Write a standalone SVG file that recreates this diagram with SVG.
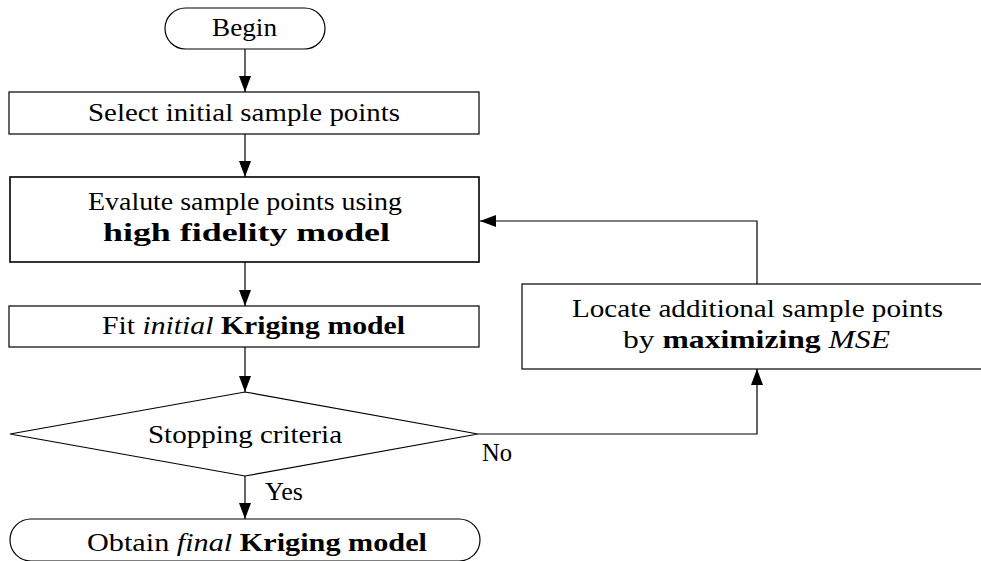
<svg xmlns="http://www.w3.org/2000/svg" width="981" height="561" viewBox="0 0 981 561">
<defs>
<marker id="ah" markerWidth="16" markerHeight="12" refX="16" refY="6" orient="auto" markerUnits="userSpaceOnUse">
<path d="M0,0 L16,6 L0,12 Z" fill="#000"/>
</marker>
<style>
.n{fill:#fff;stroke:#000;stroke-width:1.2}
.t{font-family:"Liberation Serif","DejaVu Serif",serif;font-size:26px;fill:#000}
.b{font-weight:bold}
.i{font-style:italic}
.c{fill:none;stroke:#000;stroke-width:1.2}
</style>
</defs>
<rect width="981" height="561" fill="#fff"/>
<g id="connectors">
<path class="c" d="M245,49 L245,92" marker-end="url(#ah)"/>
<path class="c" d="M245,134 L245,177" marker-end="url(#ah)"/>
<path class="c" d="M245,262 L245,306" marker-end="url(#ah)"/>
<path class="c" d="M245,347 L245,392" marker-end="url(#ah)"/>
<path class="c" d="M245,476 L245,519" marker-end="url(#ah)"/>
<path class="c" d="M478,434 L757,434 L757,369" marker-end="url(#ah)"/>
<path class="c" d="M757,284 L757,221 L480,221" marker-end="url(#ah)"/>
<text class="t" x="265" y="500" textLength="38" lengthAdjust="spacingAndGlyphs">Yes</text>
<text class="t" x="482" y="461" textLength="30" lengthAdjust="spacingAndGlyphs">No</text>
</g>
<g id="begin">
<rect class="n" x="165" y="8" width="160" height="41" rx="20.5"/>
<text class="t" x="212" y="36" textLength="65" lengthAdjust="spacingAndGlyphs">Begin</text>
</g>
<g id="select">
<rect class="n" x="9" y="92" width="470" height="42"/>
<text class="t" x="88" y="121" textLength="312" lengthAdjust="spacingAndGlyphs">Select initial sample points</text>
</g>
<g id="evaluate">
<rect class="n" x="10" y="177" width="469" height="85" style="stroke-width:1.6"/>
<text class="t" x="88" y="210" textLength="314" lengthAdjust="spacingAndGlyphs">Evalute sample points using</text>
<text class="t b" x="103" y="241" textLength="287" lengthAdjust="spacingAndGlyphs">high fidelity model</text>
</g>
<g id="fit">
<rect class="n" x="9" y="306" width="470" height="41"/>
<text class="t" x="102" y="334" textLength="303" lengthAdjust="spacingAndGlyphs">Fit <tspan class="i">initial</tspan> <tspan class="b">Kriging model</tspan></text>
</g>
<g id="stopping">
<polygon class="n" points="10,434 245,392 478,434 245,476"/>
<text class="t" x="148" y="443" textLength="194" lengthAdjust="spacingAndGlyphs">Stopping criteria</text>
</g>
<g id="locate">
<rect class="n" x="522" y="284" width="470" height="85"/>
<text class="t" x="572" y="317" textLength="371" lengthAdjust="spacingAndGlyphs">Locate additional sample points</text>
<text class="t" x="623" y="348" textLength="267" lengthAdjust="spacingAndGlyphs">by <tspan class="b">maximizing</tspan> <tspan class="i">MSE</tspan></text>
</g>
<g id="final">
<rect class="n" x="10" y="519" width="470" height="42" rx="21"/>
<text class="t" x="87" y="551" textLength="340" lengthAdjust="spacingAndGlyphs">Obtain <tspan class="i">final</tspan> <tspan class="b">Kriging model</tspan></text>
</g>
</svg>
